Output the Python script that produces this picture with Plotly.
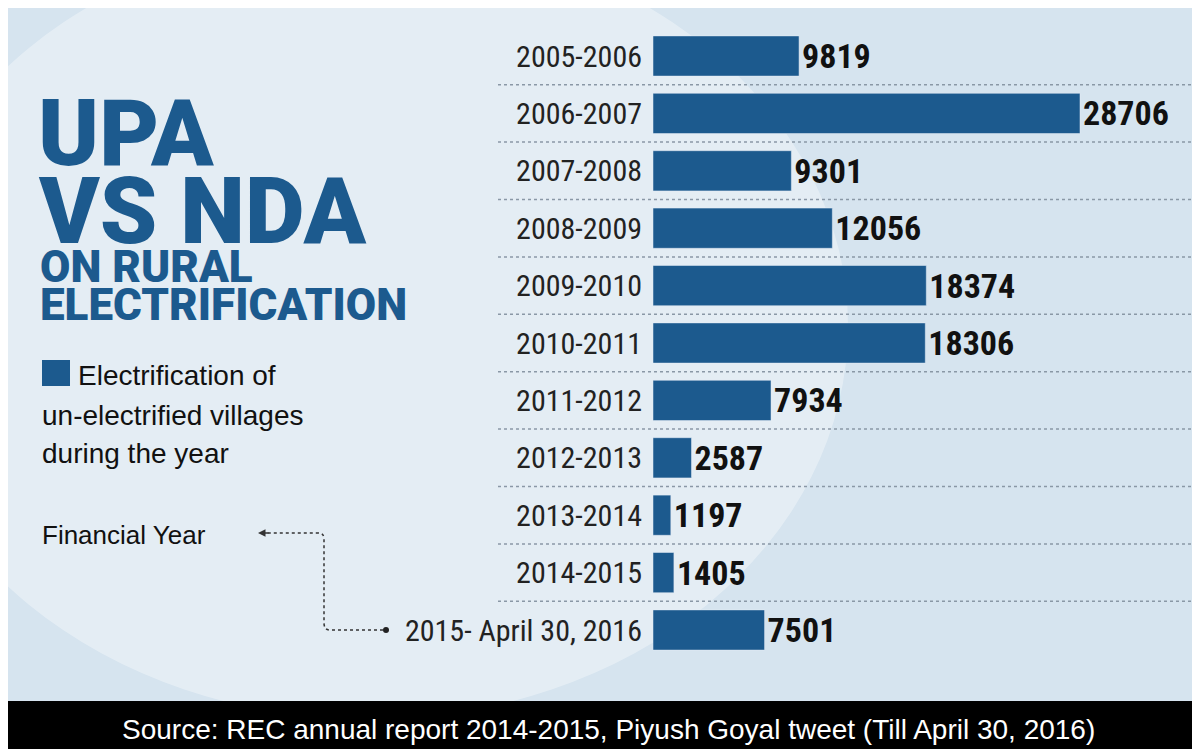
import plotly.graph_objects as go

years = ["2005-2006", "2006-2007", "2007-2008", "2008-2009", "2009-2010", "2010-2011",
         "2011-2012", "2012-2013", "2013-2014", "2014-2015", "2015- April 30, 2016"]
villages = [9819, 28706, 9301, 12056, 18374, 18306, 7934, 2587, 1197, 1405, 7501]

W, H = 1200, 749
BLUE = "#1c5a8e"
px = lambda x: x / W
py = lambda y: 1 - y / H

fig = go.Figure(go.Bar(
    x=villages, y=years, orientation="h", marker_color=BLUE,
    text=[str(v) for v in villages], textposition="outside", cliponaxis=False,
    textfont=dict(family="Liberation Sans Narrow, Roboto Condensed, sans-serif", size=34, color="#111", weight="bold"),
))

top, bot = 19.3, 650.7
fig.update_layout(
    width=W, height=H, margin=dict(l=0, r=0, t=0, b=0),
    paper_bgcolor="#d6e4ef", plot_bgcolor="rgba(0,0,0,0)", showlegend=False, bargap=0.3,
    xaxis=dict(domain=[px(645), 1], range=[0, 28706 * 555 / 427], visible=False),
    yaxis=dict(domain=[py(bot), py(top)], autorange="reversed", showgrid=False, ticks="",
               ticklabelstandoff=10,
               tickfont=dict(family="Liberation Sans Narrow, Roboto Condensed, sans-serif", size=30, color="#222")),
)

shapes = [
    dict(type="circle", xref="paper", yref="paper", x0=-0.1, x1=0.7, y0=0.05, y1=1.1,
         fillcolor="rgba(255,255,255,0.35)", line_width=0, layer="below"),
    dict(type="rect", xref="paper", yref="paper", x0=0, x1=1, y0=0, y1=py(693),
         fillcolor="#000", line_width=0),
    dict(type="rect", xref="paper", yref="paper", x0=px(34), x1=px(62), y0=py(378), y1=py(352),
         fillcolor=BLUE, line_width=0),
    dict(type="path", xref="paper", yref="paper",
         path=f"M {px(375)},{py(622)} L {px(322)},{py(622)} Q {px(316)},{py(622)} {px(316)},{py(615)} "
              f"L {px(316)},{py(531)} Q {px(316)},{py(525)} {px(310)},{py(525)} L {px(258)},{py(525)}",
         line=dict(color="#333", width=1.5, dash="dot")),
    dict(type="circle", xref="paper", yref="paper", x0=px(375), x1=px(381), y0=py(625), y1=py(619),
         fillcolor="#222", line_width=0),
]
for i in range(len(years) - 1):
    shapes.append(dict(type="line", xref="paper", yref="y", x0=px(490), x1=px(1190),
                       y0=i + 0.5, y1=i + 0.5, line=dict(color="#8a98a6", width=1.5, dash="dot")))
fig.update_layout(shapes=shapes)

def txt(x, y, s, size, color="#111", weight="normal", family="Liberation Sans, Arial, sans-serif"):
    fig.add_annotation(xref="paper", yref="paper", x=px(x), y=py(y), text=s, showarrow=False,
                       xanchor="left", yanchor="middle", font=dict(family=family, size=size, color=color, weight=weight))

title_font = "Roboto, Liberation Sans, sans-serif"
txt(28, 125, "UPA", 92, BLUE, 900, title_font)
txt(28, 204, "VS NDA", 92, BLUE, 900, title_font)
txt(30, 259, "ON RURAL", 44, BLUE, 900, title_font)
txt(30, 297, "ELECTRIFICATION", 44, BLUE, 900, title_font)
txt(68, 367, "Electrification of", 28, "#111")
txt(32, 407, "un-electrified villages", 28, "#111")
txt(32, 445, "during the year", 28, "#111")
txt(32, 527, "Financial Year", 26, "#111")
fig.add_annotation(xref="paper", yref="paper", x=px(250), y=py(525), ax=12, ay=0,
                   text="", showarrow=True, arrowhead=2, arrowsize=1,
                   arrowwidth=1.5, arrowcolor="#333")
fig.add_annotation(xref="paper", yref="paper", x=0.5, y=py(721), text="Source: REC annual report 2014-2015, Piyush Goyal tweet (Till April 30, 2016)",
                   showarrow=False, xanchor="center", yanchor="middle",
                   font=dict(family="Liberation Sans, Arial, sans-serif", size=28, color="#fff"))

fig.write_html("out.html")
